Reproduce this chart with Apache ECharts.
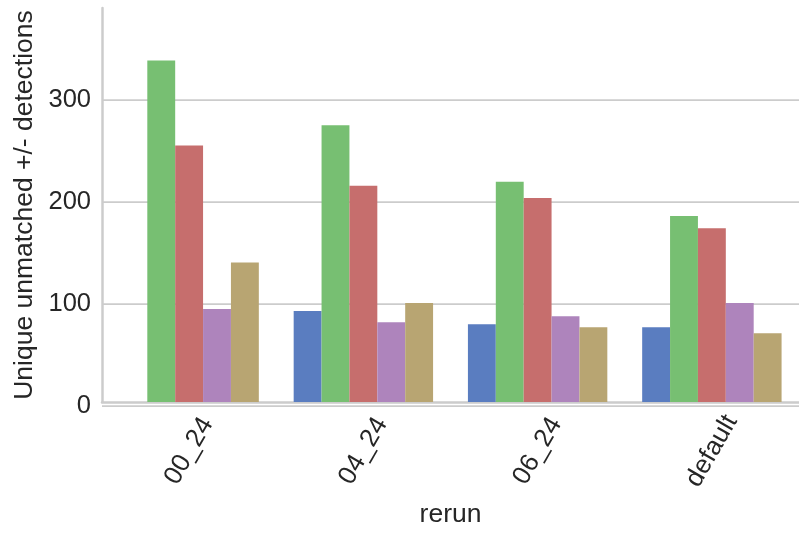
<!DOCTYPE html>
<html>
<head>
<meta charset="utf-8">
<script src="https://cdn.jsdelivr.net/npm/echarts@6/dist/echarts.min.js"></script>
<style>html,body{margin:0;padding:0;background:#fff;}#c{width:799px;height:533px;}</style>
</head>
<body>
<div id="c"></div>
<script>
const categories = ['00_24', '04_24', '06_24', 'default'];
const seriesBlue   = [null, 90, 77, 74];
const seriesGreen  = [338, 274, 218, 184];
const seriesRed    = [254, 214, 202, 172];
const seriesPurple = [92, 79, 85, 98];
const seriesTan    = [138, 98, 74, 68];
const yTicks = [0, 100, 200, 300];
const colors = ['#5A7DC0', '#77BF72', '#C66E6D', '#AE84BC', '#B8A572'];

const font = 'Liberation Sans, Arial, sans-serif';
const txt = '#262626';
const chart = echarts.init(document.getElementById('c'), null, {renderer: 'canvas'});
const seriesData = [seriesBlue, seriesGreen, seriesRed, seriesPurple, seriesTan];

chart.setOption({
  animation: false,
  backgroundColor: '#fff',
  grid: [
    {left: 102, right: -2, top: 8, bottom: 127},
    {left: 102, right: -2, top: 100, bottom: 127}
  ],
  xAxis: [
    {
      type: 'category', data: categories, gridIndex: 0,
      axisLine: {show: true, lineStyle: {color: '#cccccc', width: 2.5}},
      axisTick: {show: false},
      axisLabel: {rotate: 60, align: 'center', verticalAlign: 'middle', margin: 49,
        fontSize: 26, fontFamily: font, color: txt},
      name: 'rerun', nameLocation: 'middle', nameGap: 99,
      nameTextStyle: {fontSize: 26.5, fontFamily: font, color: txt}
    },
    {
      type: 'category', data: categories, gridIndex: 1, show: false
    }
  ],
  yAxis: [
    {
      type: 'value', gridIndex: 0, min: 0, max: 390,
      axisLine: {show: true, lineStyle: {color: '#cccccc', width: 2.5}},
      axisTick: {show: false}, axisLabel: {show: false}, splitLine: {show: false},
      name: 'Unique unmatched +/- detections', nameLocation: 'middle', nameGap: 64,
      nameTextStyle: {fontSize: 26.5, fontFamily: font, color: txt}
    },
    {
      type: 'value', gridIndex: 1, min: 0, max: 300, interval: 100,
      axisLine: {show: false}, axisTick: {show: false},
      axisLabel: {margin: 11, fontSize: 25.5, fontFamily: font, color: txt,
        formatter: v => (yTicks.indexOf(v) >= 0 ? String(v) : '')},
      splitLine: {show: true, lineStyle: {color: '#cccccc', width: 1.75}}
    }
  ],
  series: seriesData.map((d, i) => ({
    type: 'bar', xAxisIndex: 0, yAxisIndex: 0, data: d,
    barGap: '0%', barCategoryGap: '20%',
    itemStyle: {color: colors[i]}
  }))
});
</script>
</body>
</html>
